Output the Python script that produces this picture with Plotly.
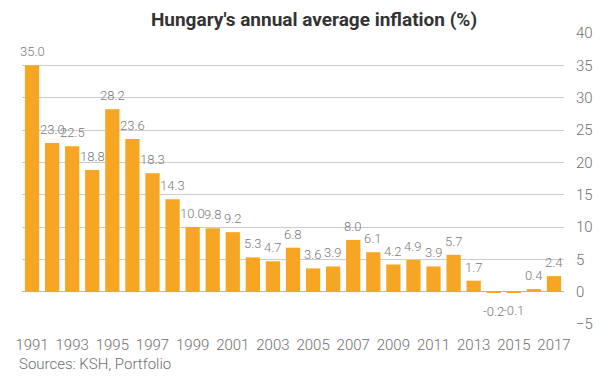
import plotly.graph_objects as go

years = list(range(1991, 2018))
inflation = [35.0, 23.0, 22.5, 18.8, 28.2, 23.6, 18.3, 14.3, 10.0, 9.8, 9.2, 5.3, 4.7, 6.8,
             3.6, 3.9, 8.0, 6.1, 4.2, 4.9, 3.9, 5.7, 1.7, -0.2, -0.1, 0.4, 2.4]
tick_years = list(range(1991, 2018, 2))
y_ticks = list(range(-5, 41, 5))

title_text = "Hungary's annual average inflation (%)"
source_text = "Sources: KSH, Portfolio"

bar_color = "#F6A623"
label_color = "#7a7a7a"
axis_color = "#6f6f6f"

fig = go.Figure()
fig.add_trace(go.Bar(x=years, y=inflation, marker=dict(color=bar_color, line=dict(width=0)),
                     hoverinfo="x+y"))

annotations = []
for yr, v in zip(years, inflation):
    annotations.append(dict(
        x=yr, y=v, xref="x", yref="y", text=f"{v:.1f}", showarrow=False,
        yanchor="bottom" if v >= 0 else "top",
        yshift=4 if v >= 0 else -9,
        font=dict(family="Roboto", size=13, color=label_color, weight=300),
    ))

annotations.append(dict(
    x=-0.01, y=-0.137, xref="paper", yref="paper", xanchor="left", yanchor="middle",
    text=source_text, showarrow=False,
    font=dict(family="Roboto", size=15, color=axis_color, weight=300),
))

fig.update_layout(
    width=605, height=378,
    margin=dict(l=22, r=33, t=33, b=54),
    paper_bgcolor="white", plot_bgcolor="white",
    showlegend=False,
    bargap=0.29,
    title=dict(text=f"<b>{title_text}</b>", x=0.519, xanchor="center", y=0.95, yanchor="middle",
               font=dict(family="Roboto", size=19, color="#333333")),
    xaxis=dict(
        tickmode="array", tickvals=tick_years, ticktext=[str(t) for t in tick_years],
        range=[1990.5, 2017.5], showgrid=False, zeroline=False, showline=False,
        ticks="", ticklabelstandoff=10,
        tickfont=dict(family="Roboto", size=15, color=axis_color, weight=300),
    ),
    yaxis=dict(
        side="right", range=[-5, 40], tickvals=y_ticks, showgrid=True,
        gridcolor="#cccccc", gridwidth=1, zeroline=True, zerolinecolor="#b5b5b5", zerolinewidth=1,
        ticks="", ticklabelstandoff=11,
        tickfont=dict(family="Roboto", size=15, color=axis_color, weight=300),
    ),
    annotations=annotations,
)

fig.write_html("out.html", config={"displayModeBar": False},
               post_script="document.body.style.margin='0';document.body.style.padding='0';")
